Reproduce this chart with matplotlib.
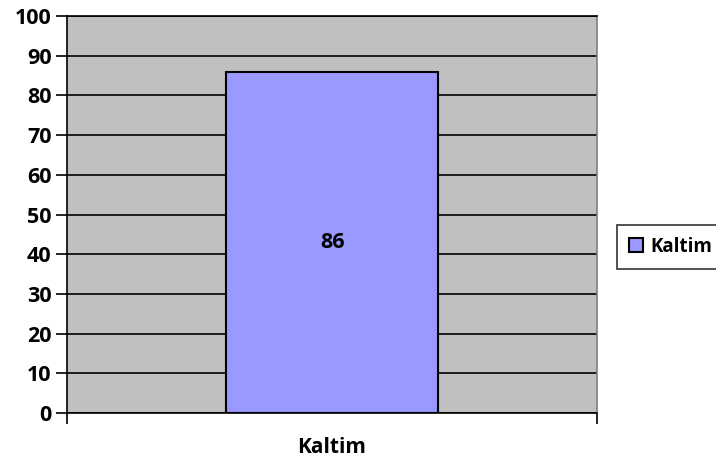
import matplotlib.pyplot as plt
from matplotlib.patches import Patch

# chart data
categories = ['Kaltim']
values = [86]
series_name = 'Kaltim'

plt.rcParams['font.family'] = ['Open Sans', 'DejaVu Sans']
plt.rcParams['font.weight'] = 'bold'

fig = plt.figure(figsize=(7.16, 4.62), dpi=100)
ax = fig.add_axes([0.0936, 0.106, 0.7402, 0.8594])
ax.set_facecolor('#C0C0C0')

x = list(range(len(categories)))
bars = ax.bar(x, values, width=0.4, color='#9999FF', edgecolor='black', linewidth=1.5, zorder=3)

# value label in the middle of the bar
for xi, v in zip(x, values):
    ax.text(xi, v / 2, str(v), ha='center', va='center', fontsize=15.5, fontweight='bold', zorder=4)

ax.set_xlim(-0.5, len(categories) - 0.5)
ax.set_ylim(0, 100)
ax.set_yticks(range(0, 101, 10))
ax.set_yticklabels([str(t) for t in range(0, 101, 10)], fontweight='bold')
ax.tick_params(axis='y', labelsize=15.5, length=8, width=1.2, direction='out', pad=3)
ax.yaxis.grid(True, color='black', linewidth=1.2, zorder=1)
ax.set_axisbelow(True)

# category boundaries as major ticks, category names as minor ticks
ax.set_xticks([i - 0.5 for i in range(len(categories) + 1)])
ax.set_xticklabels([])
ax.set_xticks(x, minor=True)
ax.set_xticklabels(categories, minor=True, fontweight='bold')
ax.tick_params(axis='x', which='major', length=8, width=1.2, direction='out')
ax.tick_params(axis='x', which='minor', length=0, labelsize=15, pad=17)

for side in ['left', 'bottom', 'top']:
    ax.spines[side].set_color('black')
    ax.spines[side].set_linewidth(1.2)
ax.spines['right'].set_color('#808080')
ax.spines['right'].set_linewidth(1.2)

handle = Patch(facecolor='#9999FF', edgecolor='black', linewidth=1.5)
leg = fig.legend([handle], [series_name], loc='center left', bbox_to_anchor=(0.862, 0.466),
                 prop={'size': 13.5, 'weight': 'bold'}, frameon=True, fancybox=False,
                 edgecolor='black', handlelength=0.75, handleheight=0.75, handletextpad=0.35,
                 borderpad=0.65, borderaxespad=0)
leg.get_frame().set_linewidth(1.2)

fig.savefig('out.png', dpi=100)
